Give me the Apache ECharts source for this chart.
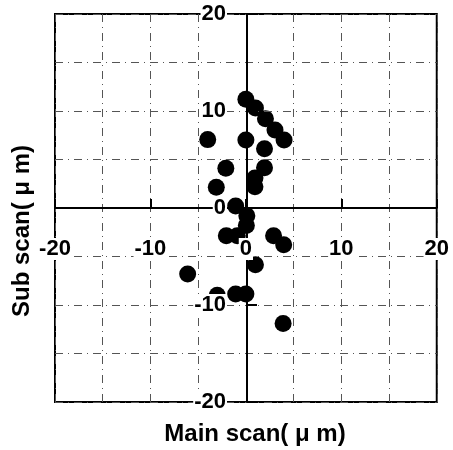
<!DOCTYPE html>
<html>
<head>
<meta charset="utf-8">
<script src="https://cdn.jsdelivr.net/npm/echarts@6/dist/echarts.min.js"></script>
<style>html,body{margin:0;padding:0;background:#fff}#c{width:453px;height:450px}</style>
</head>
<body>
<div id="c"></div>
<script>
var mainScan = [0, 1.0, 2.05, 3.05, 4.0, -4.0, 0, 1.95, -2.1, 1.95, 0.95, 0.95, -3.1, -1.07, 0.1, 0.05, -2.05, -0.9, 2.9, 3.96, 1.0, -6.1, -3.0, -1.07, 0, 3.9];
var subScan  = [11.2, 10.3, 9.2, 8.05, 7.0, 7.05, 7.0, 6.1, 4.1, 4.15, 3.1, 2.2, 2.15, 0.2, -0.8, -1.8, -2.85, -2.85, -2.85, -3.8, -5.85, -6.8, -9.0, -8.87, -8.87, -11.9];
var axisTicks = [-20, -10, 0, 10, 20];
var xTitle = 'Main scan( \u03bc m)';
var yTitle = 'Sub scan( \u03bc m)';

var points = mainScan.map(function (x, i) { return [x, subScan[i]]; });
var gridLine = { color: '#555', width: 1, type: [8, 5, 1, 5] };
var lbl = { fontFamily: 'Liberation Sans, Arial, sans-serif', fontSize: 22, fontWeight: 'bold', color: '#000', backgroundColor: '#fff', padding: [0, 1, 0, 1] };

var chart = echarts.init(document.getElementById('c'), null, { renderer: 'canvas' });
chart.setOption({
  animation: false,
  backgroundColor: '#fff',
  grid: { left: 55, right: 14, top: 14, bottom: 48, show: true, borderColor: '#000', borderWidth: 2, backgroundColor: 'transparent', containLabel: false },
  xAxis: {
    type: 'value', position: 'bottom', offset: -194, min: axisTicks[0], max: axisTicks[axisTicks.length - 1], interval: 10, z: 3,
    axisLine: { onZero: false, lineStyle: { color: '#000', width: 2 } },
    axisTick: { show: true, inside: true, length: 9, lineStyle: { color: '#000', width: 2 } },
    axisLabel: Object.assign({ margin: 30 }, lbl),
    splitLine: { show: true, lineStyle: gridLine },
    minorTick: { show: false, splitNumber: 2 },
    minorSplitLine: { show: true, lineStyle: gridLine }
  },
  yAxis: {
    type: 'value', position: 'left', offset: -192, min: axisTicks[0], max: axisTicks[axisTicks.length - 1], interval: 10, z: 3,
    axisLine: { onZero: false, lineStyle: { color: '#000', width: 2 } },
    axisTick: { show: true, inside: true, length: 10, lineStyle: { color: '#000', width: 2 } },
    axisLabel: Object.assign({ margin: 20 }, lbl),
    splitLine: { show: true, lineStyle: gridLine },
    minorTick: { show: false, splitNumber: 2 },
    minorSplitLine: { show: true, lineStyle: gridLine }
  },
  graphic: [
    { type: 'text', x: 255, y: 434, z: 10, style: { text: xTitle, font: 'bold 24px "Liberation Sans", Arial, sans-serif', fill: '#000', textAlign: 'center', textVerticalAlign: 'middle' } },
    { type: 'text', x: 22, y: 231, rotation: Math.PI / 2, z: 10, style: { text: yTitle, font: 'bold 24px "Liberation Sans", Arial, sans-serif', fill: '#000', textAlign: 'center', textVerticalAlign: 'middle' } }
  ],
  series: [{
    type: 'scatter', data: points, symbol: 'circle', symbolSize: 17, z: 2,
    itemStyle: { color: '#000', opacity: 1 }
  }]
});
</script>
</body>
</html>
